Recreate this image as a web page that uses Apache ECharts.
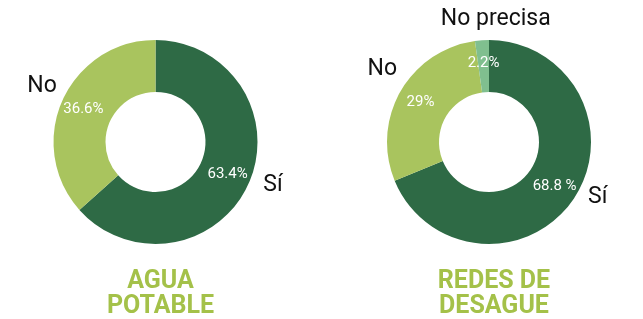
<!DOCTYPE html>
<html>
<head>
<meta charset="utf-8">
<script src="https://cdn.jsdelivr.net/npm/echarts@6/dist/echarts.min.js"></script>
<style>
    html, body { margin: 0; padding: 0; background: #fff; }
    #main { width: 643px; height: 319px; }
</style>
</head>
<body>
<div id="main"></div>
<script>
// Agua potable
const aguaCats = ['Sí', 'No'];
const aguaVals = [63.4, 36.6];
const aguaPct = ['63.4%', '36.6%'];

// Redes de desague
const redesCats = ['Sí', 'No', 'No precisa'];
const redesVals = [68.8, 29, 2.2];
const redesPct = ['68.8 %', '29%', '2.2%'];

const titles = ['AGUA\nPOTABLE', 'REDES DE\nDESAGUE'];

const DARK = '#2e6a45';
const LIGHT = '#a9c45e';
const TEAL = '#80bf8f';
const TITLE = '#a4c149';
const FONT = 'Roboto, "Noto Sans", sans-serif';

const chart = echarts.init(document.getElementById('main'));

function toData(cats, vals, colors) {
    return cats.map(function (c, i) {
        return { name: c, value: vals[i], itemStyle: { color: colors[i] } };
    });
}

function ringSeries(center, cats, vals, pct, colors) {
    return {
        type: 'pie',
        center: center,
        radius: [50, 102],
        startAngle: 90,
        silent: true,
        animation: false,
        avoidLabelOverlap: false,
        data: toData(cats, vals, colors),
        label: {
            position: 'inside',
            color: '#fff',
            fontFamily: FONT,
            fontSize: 15,
            formatter: function (p) { return pct[p.dataIndex]; }
        },
        labelLine: { show: false }
    };
}

// second ring with no fill, only carries the outer category names
function nameSeries(center, cats, vals, shifts) {
    return {
        type: 'pie',
        center: center,
        radius: [50, 102],
        startAngle: 90,
        silent: true,
        animation: false,
        avoidLabelOverlap: false,
        data: toData(cats, vals, cats.map(function () { return 'rgba(0,0,0,0)'; })),
        label: {
            position: 'outside',
            color: '#111',
            fontFamily: FONT,
            fontSize: 23,
            formatter: '{b}'
        },
        labelLine: { show: false, length: 4, length2: 6 },
        labelLayout: function (p) {
            const s = shifts[p.dataIndex] || [0, 0];
            return { dx: s[0], dy: s[1] };
        }
    };
}

const leftC = [155.5, 142];
const rightC = [489, 142];

chart.setOption({
    backgroundColor: '#fff',
    title: titles.map(function (t, i) {
        return {
            text: t,
            left: i === 0 ? leftC[0] : rightC[0],
            top: 264,
            textAlign: 'center',
            textStyle: {
                color: TITLE,
                fontFamily: FONT,
                fontWeight: 'bold',
                fontSize: 25,
                lineHeight: 25
            }
        };
    }),
    series: [
        ringSeries(leftC, aguaCats, aguaVals, aguaPct, [DARK, LIGHT]),
        nameSeries(leftC, aguaCats, aguaVals, [[0, 0], [9, -12]]),
        ringSeries(rightC, redesCats, redesVals, redesPct, [DARK, LIGHT, TEAL]),
        nameSeries(rightC, redesCats, redesVals, [[0, -4], [11, -20], [80, -17]])
    ]
});
</script>
</body>
</html>
